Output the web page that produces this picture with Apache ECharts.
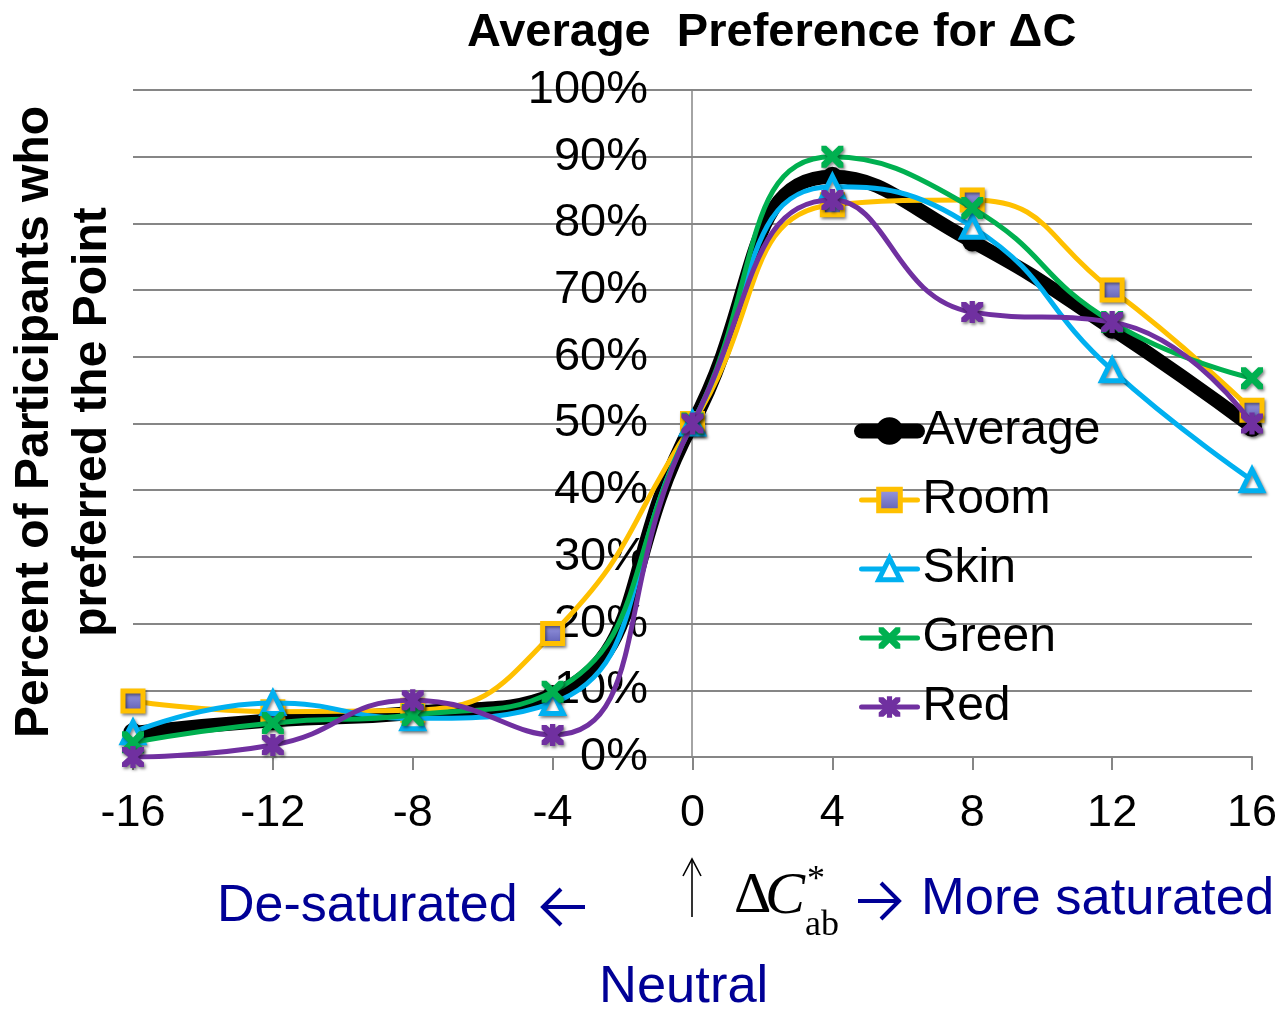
<!DOCTYPE html>
<html>
<head>
<meta charset="utf-8">
<script src="https://cdn.jsdelivr.net/npm/echarts@6/dist/echarts.min.js"></script>
<style>html,body{margin:0;padding:0;background:#fff}#c{width:1281px;height:1011px}</style>
</head>
<body>
<div id="c"></div>
<script>
var deltaC = [-16, -12, -8, -4, 0, 4, 8, 12, 16];
var xTicks = ['-16', '-12', '-8', '-4', '0', '4', '8', '12', '16'];
var yTicks = ['0%', '10%', '20%', '30%', '40%', '50%', '60%', '70%', '80%', '90%', '100%'];
var seriesNames = ['Average', 'Room', 'Skin', 'Green', 'Red'];
var average = [3.6, 5.5, 6.6, 9.3, 50, 87.0, 77.3, 64.2, 49.5];
var room    = [8.4, 6.8, 7.0, 18.5, 50, 82.8, 83.5, 70.0, 52.0];
var skin    = [3.7, 8.1, 5.8, 8.1, 50, 85.5, 79.5, 58.0, 41.5];
var green   = [2.2, 5.1, 6.3, 9.8, 50, 90.0, 82.3, 65.2, 56.8];
var red     = [0.0, 1.8, 8.5, 3.3, 50, 83.5, 66.7, 65.2, 50.0];

function pairs(vals) { return deltaC.map(function (x, i) { return [x, vals[i]]; }); }

var xPath = 'path://M0,0 L2.2,0 L5,2.8 L7.8,0 L10,0 L10,2.2 L7.2,5 L10,7.8 L10,10 L7.8,10 L5,7.2 L2.2,10 L0,10 L0,7.8 L2.8,5 L0,2.2 Z';
var starPath = 'path://M0,0 L2.2,0 L5,2.8 L7.8,0 L10,0 L10,2.2 L7.2,5 L10,7.8 L10,10 L7.8,10 L5,7.2 L2.2,10 L0,10 L0,7.8 L2.8,5 L0,2.2 Z M3.8,-0.5 L6.2,-0.5 L6.2,10.5 L3.8,10.5 Z';

var shadow = { shadowBlur: 3, shadowColor: 'rgba(0,0,0,0.45)', shadowOffsetX: 1.5, shadowOffsetY: 2 };
function mk(o) { return Object.assign({}, shadow, o); }

var font = 'Liberation Sans, Arial, sans-serif';
var serif = 'Liberation Serif, Times New Roman, serif';
var blue = '#000096';
var C_ROOM = '#FFC000', C_SKIN = '#00B0F0', C_GREEN = '#00B050', C_RED = '#7030A0';
var roomFill = new echarts.graphic.LinearGradient(0, 0, 0, 1, [{ offset: 0, color: '#a0a0e8' }, { offset: 1, color: '#5a5ab0' }]);

var chart = echarts.init(document.getElementById('c'), null, { renderer: 'canvas' });

chart.setOption({
  animation: false,
  backgroundColor: '#ffffff',
  title: {
    text: 'Average  Preference for \u0394C',
    left: 462, top: 5,
    textStyle: { fontFamily: font, fontSize: 47, fontWeight: 'bold', color: '#000' }
  },
  grid: { left: 133, right: 29, top: 90, bottom: 254, containLabel: false, outerBoundsMode: 'none' },
  xAxis: {
    type: 'value', min: -16, max: 16, interval: 4,
    axisLine: { onZero: true, lineStyle: { color: '#868686', width: 2 } },
    axisTick: { show: true, length: 13, lineStyle: { color: '#868686', width: 2 } },
    axisLabel: { fontFamily: font, fontSize: 45, color: '#000', margin: 34,
      formatter: function (v) { return xTicks[deltaC.indexOf(v)]; } },
    splitLine: { show: false }
  },
  yAxis: {
    type: 'value', min: 0, max: 100, interval: 10,
    position: 'left', offset: -559,
    axisLine: { show: true, onZero: false, lineStyle: { color: '#868686', width: 1.5 } },
    axisTick: { show: false },
    axisLabel: { fontFamily: font, fontSize: 47, color: '#000', margin: 44,
      formatter: function (v) { return yTicks[Math.round(v / 10)]; } },
    splitLine: { show: true, lineStyle: { color: '#868686', width: 2 } }
  },
  legend: {
    orient: 'vertical', left: 849, top: 402,
    itemWidth: 56, itemHeight: 27, itemGap: 21,
    textStyle: { fontFamily: font, fontSize: 48, color: '#000' },
    data: [
      { name: 'Average', lineStyle: { width: 15, cap: 'round', color: '#000' }, itemStyle: { color: '#000', borderColor: '#000', borderWidth: 6 } },
      { name: 'Room', lineStyle: { width: 5, cap: 'round', color: C_ROOM }, itemStyle: { color: roomFill, borderColor: C_ROOM, borderWidth: 5 } },
      { name: 'Skin', lineStyle: { width: 5, cap: 'round', color: C_SKIN }, itemStyle: { color: '#fff', borderColor: C_SKIN, borderWidth: 5 } },
      { name: 'Green', lineStyle: { width: 5, cap: 'round', color: C_GREEN }, itemStyle: { color: C_GREEN, borderWidth: 0 } },
      { name: 'Red', lineStyle: { width: 5, cap: 'round', color: C_RED }, itemStyle: { color: C_RED, borderWidth: 0 } }
    ]
  },
  series: [
    {
      name: 'Room', type: 'line', smooth: 0.5, z: 3,
      data: pairs(room), symbol: 'rect', symbolSize: 20,
      lineStyle: { color: C_ROOM, width: 5 },
      itemStyle: mk({ color: roomFill, borderColor: C_ROOM, borderWidth: 5 })
    },
    {
      name: 'Skin', type: 'line', smooth: 0.5, z: 4,
      data: pairs(skin), symbol: 'triangle', symbolSize: 21,
      lineStyle: { color: C_SKIN, width: 5 },
      itemStyle: mk({ color: '#ffffff', borderColor: C_SKIN, borderWidth: 5 })
    },
    {
      name: 'Average', type: 'line', smooth: 0.5, z: 2,
      data: pairs(average), symbol: 'circle', symbolSize: 20,
      lineStyle: { color: '#000000', width: 14 },
      itemStyle: mk({ color: '#000000' })
    },
    {
      name: 'Green', type: 'line', smooth: 0.5, z: 5,
      data: pairs(green), symbol: xPath, symbolSize: 22,
      lineStyle: { color: C_GREEN, width: 5 },
      itemStyle: mk({ color: C_GREEN })
    },
    {
      name: 'Red', type: 'line', smooth: 0.5, z: 6,
      data: pairs(red), symbol: starPath, symbolSize: 22,
      lineStyle: { color: C_RED, width: 5 },
      itemStyle: mk({ color: C_RED })
    }
  ],
  graphic: [
    { type: 'text', x: 35, y: 422, rotation: Math.PI / 2,
      style: { text: 'Percent of Participants who', font: 'bold 48px ' + font, fill: '#000', align: 'center', verticalAlign: 'middle' } },
    { type: 'text', x: 93, y: 422, rotation: Math.PI / 2,
      style: { text: 'preferred the Point', font: 'bold 48px ' + font, fill: '#000', align: 'center', verticalAlign: 'middle' } },
    { type: 'text', x: 217, y: 907,
      style: { text: 'De-saturated', font: '52px ' + font, fill: blue, align: 'left', verticalAlign: 'middle' } },
    { type: 'polyline', shape: { points: [[585, 907], [544, 907]] }, style: { stroke: blue, lineWidth: 4, fill: null } },
    { type: 'polyline', shape: { points: [[561, 889], [543, 907], [561, 925]] }, style: { stroke: blue, lineWidth: 4, fill: null, lineJoin: 'miter' } },
    { type: 'polyline', shape: { points: [[692, 917], [692, 860]] }, style: { stroke: '#000', lineWidth: 1.6, fill: null } },
    { type: 'polyline', shape: { points: [[683, 876], [692, 859], [701, 876]] }, style: { stroke: '#000', lineWidth: 1.6, fill: null } },
    { type: 'text', x: 734, y: 897,
      style: { text: '\u0394', font: '58px ' + serif, fill: '#000', align: 'left', verticalAlign: 'middle' } },
    { type: 'text', x: 765, y: 897,
      style: { text: 'C', font: 'italic 60px ' + serif, fill: '#000', align: 'left', verticalAlign: 'middle' } },
    { type: 'text', x: 807, y: 881,
      style: { text: '*', font: '36px ' + serif, fill: '#000', align: 'left', verticalAlign: 'middle' } },
    { type: 'text', x: 805, y: 926,
      style: { text: 'ab', font: '36px ' + serif, fill: '#000', align: 'left', verticalAlign: 'middle' } },
    { type: 'polyline', shape: { points: [[858, 901], [898, 901]] }, style: { stroke: blue, lineWidth: 4, fill: null } },
    { type: 'polyline', shape: { points: [[881, 883], [899, 901], [881, 919]] }, style: { stroke: blue, lineWidth: 4, fill: null, lineJoin: 'miter' } },
    { type: 'text', x: 921, y: 900,
      style: { text: 'More saturated', font: '52.5px ' + font, fill: blue, align: 'left', verticalAlign: 'middle' } },
    { type: 'text', x: 599, y: 988,
      style: { text: 'Neutral', font: '52.5px ' + font, fill: blue, align: 'left', verticalAlign: 'middle' } }
  ]
});
</script>
</body>
</html>
